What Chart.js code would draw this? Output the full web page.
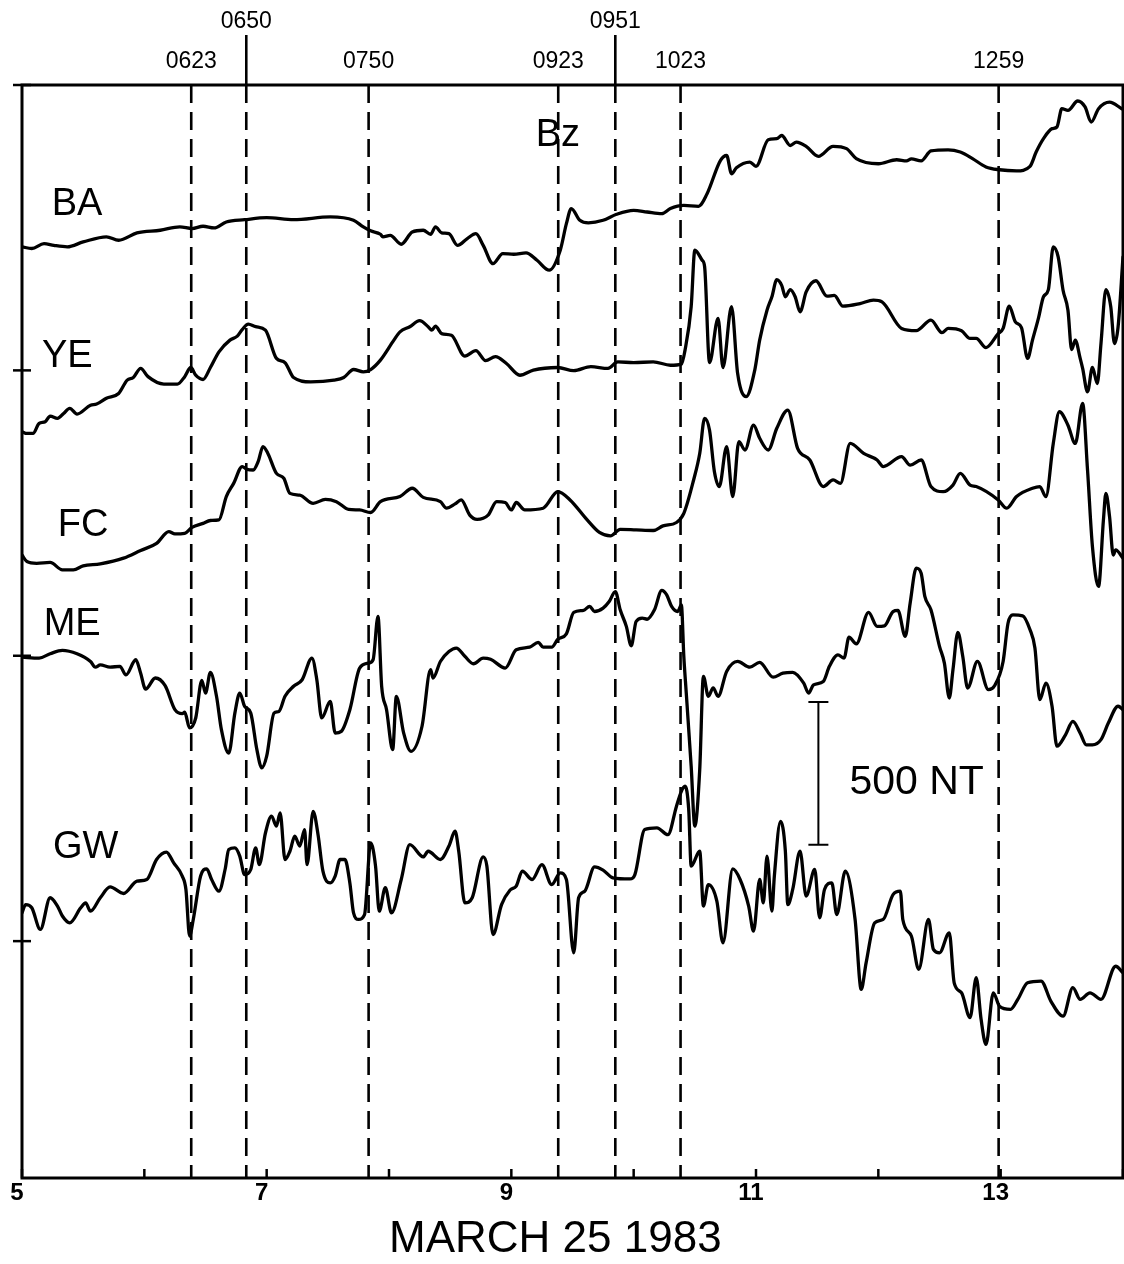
<!DOCTYPE html>
<html>
<head>
<meta charset="utf-8">
<script src="https://cdn.jsdelivr.net/npm/chart.js@4.4.1/dist/chart.umd.min.js"></script>
<style>
  html, body { margin: 0; padding: 0; background: #fff; }
  #wrap { width: 1124px; height: 1264px; }
</style>
</head>
<body>
<div id="wrap"><canvas id="chart" width="1124" height="1264"></canvas></div>
<script>
// Magnetometer traces, March 25 1983: [UT hour, stacked field value in nT]
const stations = ['BA', 'YE', 'FC', 'ME', 'GW'];

const baTrace = [[5.00,2433],[5.08,2427],[5.18,2444],[5.26,2438],[5.37,2433],[5.50,2450],[5.69,2468],[5.79,2456],[5.94,2482],[6.13,2491],[6.29,2503],[6.39,2497],[6.48,2505],[6.57,2499],[6.67,2520],[6.82,2528],[7.00,2535],[7.22,2528],[7.52,2538],[7.71,2526],[7.79,2503],[7.85,2489],[7.93,2477],[7.95,2468],[8.01,2473],[8.10,2442],[8.19,2485],[8.28,2491],[8.34,2477],[8.38,2503],[8.43,2482],[8.49,2479],[8.56,2438],[8.64,2462],[8.71,2479],[8.77,2438],[8.85,2374],[8.93,2409],[9.02,2407],[9.12,2412],[9.21,2386],[9.31,2351],[9.40,2421],[9.45,2514],[9.49,2567],[9.56,2526],[9.63,2517],[9.75,2526],[9.86,2547],[10.00,2561],[10.11,2555],[10.23,2549],[10.30,2567],[10.41,2578],[10.53,2575],[10.60,2619],[10.71,2736],[10.76,2753],[10.80,2689],[10.84,2710],[10.95,2730],[11.00,2715],[11.10,2808],[11.17,2812],[11.21,2823],[11.28,2788],[11.33,2800],[11.41,2785],[11.51,2750],[11.63,2785],[11.74,2777],[11.82,2742],[12.00,2724],[12.15,2738],[12.23,2734],[12.27,2741],[12.35,2734],[12.43,2769],[12.57,2773],[12.67,2765],[12.77,2742],[12.88,2713],[12.99,2703],[13.13,2699],[13.24,2715],[13.29,2765],[13.35,2812],[13.42,2847],[13.46,2853],[13.50,2917],[13.55,2911],[13.63,2944],[13.69,2923],[13.74,2870],[13.80,2917],[13.89,2940],[13.99,2917]];

const yeTrace = [[5.00,1785],[5.04,1779],[5.09,1779],[5.14,1814],[5.19,1820],[5.23,1840],[5.29,1832],[5.34,1849],[5.39,1867],[5.45,1847],[5.56,1878],[5.61,1882],[5.69,1902],[5.79,1919],[5.86,1966],[5.91,1975],[5.97,2007],[6.03,1978],[6.16,1952],[6.27,1952],[6.33,1978],[6.38,2010],[6.42,1983],[6.48,1968],[6.54,2010],[6.61,2065],[6.70,2106],[6.76,2120],[6.80,2143],[6.85,2162],[6.91,2153],[6.99,2141],[7.08,2042],[7.15,2027],[7.22,1975],[7.36,1960],[7.55,1966],[7.63,1975],[7.71,2003],[7.79,1995],[7.85,2003],[7.93,2036],[8.04,2106],[8.09,2135],[8.17,2153],[8.25,2174],[8.32,2153],[8.35,2141],[8.38,2155],[8.43,2129],[8.51,2123],[8.62,2050],[8.71,2069],[8.79,2034],[8.87,2048],[8.96,2024],[9.07,1983],[9.18,2001],[9.38,2010],[9.51,1999],[9.65,2013],[9.79,2007],[9.87,2030],[10.00,2027],[10.16,2030],[10.30,2018],[10.39,2022],[10.42,2071],[10.47,2223],[10.50,2421],[10.56,2386],[10.58,2363],[10.62,2027],[10.69,2182],[10.73,2010],[10.80,2223],[10.85,1989],[10.92,1908],[10.99,2001],[11.03,2106],[11.09,2211],[11.13,2258],[11.17,2318],[11.21,2298],[11.24,2258],[11.28,2283],[11.32,2258],[11.36,2205],[11.41,2275],[11.49,2314],[11.58,2260],[11.64,2263],[11.71,2225],[11.85,2234],[11.96,2246],[12.03,2240],[12.19,2147],[12.31,2139],[12.43,2176],[12.52,2132],[12.57,2147],[12.68,2139],[12.75,2112],[12.80,2112],[12.88,2080],[12.98,2129],[13.02,2147],[13.07,2225],[13.12,2170],[13.17,2150],[13.22,2042],[13.26,2106],[13.31,2185],[13.35,2258],[13.39,2283],[13.43,2433],[13.47,2398],[13.51,2281],[13.55,2211],[13.58,2073],[13.61,2106],[13.65,2042],[13.67,2007],[13.71,1925],[13.75,2010],[13.79,1954],[13.82,2094],[13.86,2283],[13.90,2223],[13.93,2094],[13.96,2153],[14.00,2398]];

const fcTrace = [[5.00,1353],[5.04,1330],[5.12,1324],[5.23,1327],[5.33,1301],[5.42,1301],[5.50,1315],[5.64,1322],[5.83,1342],[5.97,1369],[6.10,1394],[6.20,1435],[6.25,1427],[6.33,1429],[6.39,1450],[6.48,1464],[6.54,1474],[6.61,1476],[6.67,1558],[6.73,1604],[6.80,1663],[6.84,1653],[6.89,1651],[6.93,1680],[6.97,1733],[7.01,1709],[7.08,1639],[7.14,1622],[7.19,1569],[7.27,1563],[7.38,1534],[7.48,1548],[7.57,1540],[7.67,1513],[7.76,1511],[7.85,1502],[7.93,1540],[8.09,1558],[8.19,1587],[8.28,1555],[8.42,1540],[8.47,1517],[8.54,1532],[8.59,1546],[8.66,1493],[8.72,1478],[8.81,1493],[8.88,1540],[8.95,1537],[9.00,1511],[9.04,1537],[9.11,1511],[9.26,1517],[9.38,1575],[9.48,1546],[9.62,1476],[9.72,1432],[9.81,1420],[9.89,1443],[10.02,1441],[10.16,1439],[10.24,1455],[10.35,1467],[10.41,1499],[10.49,1616],[10.54,1709],[10.58,1832],[10.62,1791],[10.66,1645],[10.70,1593],[10.76,1733],[10.81,1558],[10.86,1750],[10.91,1721],[10.98,1808],[11.03,1762],[11.10,1721],[11.17,1797],[11.26,1861],[11.34,1727],[11.44,1686],[11.55,1593],[11.63,1616],[11.69,1604],[11.77,1744],[11.88,1709],[11.99,1686],[12.04,1663],[12.19,1698],[12.26,1668],[12.35,1686],[12.43,1593],[12.53,1575],[12.61,1598],[12.67,1639],[12.75,1598],[12.80,1593],[12.98,1546],[13.05,1517],[13.13,1558],[13.26,1587],[13.32,1593],[13.37,1558],[13.43,1744],[13.48,1855],[13.55,1808],[13.61,1744],[13.67,1884],[13.71,1651],[13.75,1383],[13.80,1243],[13.84,1476],[13.86,1569],[13.89,1488],[13.92,1353],[13.94,1371],[14.00,1342]];

const meTrace = [[5.00,995],[5.14,992],[5.23,1007],[5.33,1019],[5.45,1007],[5.56,980],[5.60,960],[5.64,968],[5.72,960],[5.80,963],[5.85,933],[5.93,986],[5.97,939],[6.01,883],[6.09,922],[6.17,895],[6.25,811],[6.31,797],[6.33,802],[6.37,747],[6.42,782],[6.47,914],[6.50,869],[6.54,942],[6.59,858],[6.63,741],[6.69,659],[6.74,799],[6.78,869],[6.82,823],[6.87,799],[6.92,671],[6.96,607],[7.00,648],[7.06,799],[7.10,805],[7.15,858],[7.22,893],[7.29,916],[7.37,992],[7.41,916],[7.45,782],[7.52,840],[7.56,729],[7.61,735],[7.68,811],[7.76,957],[7.83,974],[7.87,986],[7.91,1138],[7.94,893],[7.98,811],[8.03,671],[8.06,858],[8.12,729],[8.18,665],[8.27,753],[8.34,951],[8.36,922],[8.42,980],[8.49,1015],[8.55,1027],[8.62,998],[8.69,972],[8.77,992],[8.83,988],[8.95,957],[9.04,1021],[9.15,1030],[9.22,1047],[9.26,1030],[9.33,1030],[9.38,1058],[9.45,1077],[9.51,1152],[9.59,1159],[9.64,1173],[9.68,1155],[9.75,1167],[9.80,1190],[9.85,1225],[9.89,1161],[9.94,1103],[9.98,1035],[10.02,1120],[10.07,1132],[10.11,1128],[10.17,1161],[10.23,1229],[10.27,1213],[10.31,1173],[10.36,1155],[10.39,1178],[10.41,998],[10.43,869],[10.47,613],[10.50,403],[10.54,601],[10.57,928],[10.61,858],[10.65,887],[10.69,858],[10.76,945],[10.85,980],[10.95,960],[11.03,977],[11.14,925],[11.22,939],[11.30,942],[11.39,904],[11.43,869],[11.47,898],[11.55,910],[11.60,963],[11.67,1003],[11.72,992],[11.76,1065],[11.82,1042],[11.92,1152],[11.99,1103],[12.05,1105],[12.12,1155],[12.16,1159],[12.22,1068],[12.26,1184],[12.31,1307],[12.35,1289],[12.38,1208],[12.43,1161],[12.50,1033],[12.54,974],[12.58,852],[12.61,951],[12.65,1082],[12.69,998],[12.73,887],[12.81,980],[12.90,881],[12.95,895],[13.02,980],[13.06,1114],[13.10,1143],[13.18,1140],[13.24,1091],[13.28,1027],[13.32,846],[13.37,904],[13.42,823],[13.46,683],[13.53,723],[13.59,770],[13.65,729],[13.70,688],[13.75,688],[13.82,706],[13.88,764],[13.96,823],[14.00,811]];

const gwTrace = [[5.00,99],[5.03,128],[5.08,117],[5.15,41],[5.23,152],[5.29,123],[5.33,88],[5.39,64],[5.48,117],[5.52,134],[5.56,105],[5.64,152],[5.72,190],[5.83,167],[5.94,210],[6.02,216],[6.10,286],[6.18,312],[6.24,274],[6.31,228],[6.34,181],[6.37,18],[6.40,76],[6.46,228],[6.51,253],[6.55,216],[6.61,175],[6.66,251],[6.69,321],[6.74,327],[6.78,298],[6.82,233],[6.87,251],[6.91,327],[6.94,268],[6.99,379],[7.04,438],[7.08,403],[7.11,449],[7.15,286],[7.19,315],[7.23,368],[7.27,333],[7.31,391],[7.33,268],[7.38,455],[7.42,373],[7.46,245],[7.52,204],[7.56,228],[7.60,286],[7.64,286],[7.68,204],[7.71,99],[7.75,76],[7.80,93],[7.85,344],[7.89,263],[7.92,105],[7.97,187],[8.02,99],[8.10,216],[8.17,338],[8.28,295],[8.32,315],[8.42,286],[8.49,333],[8.54,385],[8.57,315],[8.62,134],[8.68,152],[8.77,295],[8.80,263],[8.85,23],[8.92,128],[8.99,179],[9.04,193],[9.09,245],[9.17,216],[9.25,268],[9.33,198],[9.40,239],[9.45,216],[9.51,-41],[9.55,152],[9.60,175],[9.68,260],[9.75,249],[9.83,222],[9.97,218],[10.01,233],[10.09,391],[10.19,397],[10.28,373],[10.35,473],[10.39,525],[10.42,543],[10.45,461],[10.47,263],[10.54,315],[10.57,123],[10.61,198],[10.68,140],[10.73,-6],[10.81,253],[10.87,216],[10.94,123],[10.98,35],[11.03,216],[11.06,134],[11.09,298],[11.13,105],[11.15,228],[11.20,420],[11.24,315],[11.26,128],[11.30,181],[11.36,315],[11.41,158],[11.48,251],[11.52,82],[11.56,181],[11.62,204],[11.66,93],[11.73,245],[11.81,76],[11.86,-169],[11.90,-76],[11.97,64],[12.04,76],[12.12,163],[12.18,175],[12.20,76],[12.27,18],[12.33,-99],[12.41,76],[12.45,-29],[12.50,-41],[12.58,29],[12.62,-146],[12.68,-181],[12.75,-268],[12.80,-128],[12.84,-274],[12.88,-362],[12.94,-181],[12.99,-228],[13.08,-239],[13.14,-204],[13.22,-146],[13.33,-140],[13.41,-210],[13.51,-263],[13.59,-163],[13.65,-204],[13.73,-181],[13.82,-204],[13.94,-88],[14.00,-111]];

const traces = [baTrace, yeTrace, fcTrace, meTrace, gwTrace];

// Event times (UT, hhmm) marked with dashed lines
const eventTimes = ['0623', '0650', '0750', '0923', '0951', '1023', '1259'];

// Hour axis
const hourTicks = [5, 6, 7, 8, 9, 10, 11, 12, 13, 14];
const hourLabels = [5, 7, 9, 11, 13];
const fieldTicks = [0, 1000, 2000, 3000];
const dateTitle = 'MARCH 25 1983';

// Calibration bar
const scaleBarNT = 500;

const FONT = "'Liberation Sans', Arial, Helvetica, sans-serif";
const toHours = s => Number(s.slice(0, 2)) + Number(s.slice(2)) / 60;

// Where the text annotations sit, in axis units [hour, nT]
const stationLabelAt = { BA: [5.45, 2580], YE: [5.37, 2049], FC: [5.50, 1458], ME: [5.41, 1108], GW: [5.52, 328] };
const bzLabelAt = [9.38, 2823];
const scaleBarAt = { hour: 11.51, base: 338 };
const titleAt = [9.36, -1047];

const decor = {
  id: 'decor',
  beforeDatasetsDraw(chart) {
    const { ctx, chartArea: a, scales: { x } } = chart;
    ctx.save();
    ctx.strokeStyle = '#000';
    ctx.fillStyle = '#000';
    ctx.font = `23px ${FONT}`;
    ctx.textAlign = 'center';
    ctx.textBaseline = 'middle';
    let lastLow = -Infinity;
    eventTimes.forEach(ev => {
      const h = toHours(ev);
      const px = x.getPixelForValue(h);
      const raised = h - lastLow < 0.6;
      if (!raised) lastLow = h;
      ctx.lineWidth = 2.6;
      // stem up to a raised label
      if (raised) {
        ctx.setLineDash([]);
        ctx.beginPath();
        ctx.moveTo(px, a.top - 50);
        ctx.lineTo(px, a.top);
        ctx.stroke();
      }
      ctx.setLineDash([18, 9]);
      ctx.beginPath();
      ctx.moveTo(px, a.top);
      ctx.lineTo(px, a.bottom);
      ctx.stroke();
      ctx.setLineDash([]);
      ctx.fillText(ev, px, raised ? a.top - 63 : a.top - 23);
    });
    ctx.restore();
  },
  afterDraw(chart) {
    const { ctx, chartArea: a, scales: { x, y } } = chart;
    ctx.save();
    ctx.strokeStyle = '#000';
    ctx.fillStyle = '#000';
    ctx.setLineDash([]);
    // frame
    ctx.lineWidth = 3;
    ctx.strokeRect(a.left, a.top, a.right - a.left, a.bottom - a.top);
    // field ticks across the left axis
    ctx.lineWidth = 2.5;
    fieldTicks.forEach(v => {
      const py = y.getPixelForValue(v);
      ctx.beginPath();
      ctx.moveTo(a.left - 9, py);
      ctx.lineTo(a.left + 9, py);
      ctx.stroke();
    });
    // hour ticks on the time axis
    hourTicks.forEach(h => {
      const px = x.getPixelForValue(h);
      ctx.beginPath();
      ctx.moveTo(px, a.bottom);
      ctx.lineTo(px, a.bottom - 9);
      ctx.stroke();
    });
    // station names
    ctx.textAlign = 'center';
    ctx.textBaseline = 'middle';
    ctx.font = `38px ${FONT}`;
    stations.forEach(s => {
      const [h, v] = stationLabelAt[s];
      ctx.fillText(s, x.getPixelForValue(h), y.getPixelForValue(v));
    });
    ctx.fillText('Bz', x.getPixelForValue(bzLabelAt[0]), y.getPixelForValue(bzLabelAt[1]));
    // 500 nT calibration bar
    const bx = x.getPixelForValue(scaleBarAt.hour);
    const b0 = y.getPixelForValue(scaleBarAt.base);
    const b1 = y.getPixelForValue(scaleBarAt.base + scaleBarNT);
    ctx.lineWidth = 2;
    ctx.beginPath();
    ctx.moveTo(bx, b0); ctx.lineTo(bx, b1);
    ctx.moveTo(bx - 10, b0); ctx.lineTo(bx + 10, b0);
    ctx.moveTo(bx - 10, b1); ctx.lineTo(bx + 10, b1);
    ctx.stroke();
    ctx.font = `41px ${FONT}`;
    ctx.textAlign = 'left';
    ctx.fillText(`${scaleBarNT} NT`, bx + 31, (b0 + b1) / 2 + 9);
    // date title under the time axis
    ctx.textAlign = 'center';
    ctx.font = `44px ${FONT}`;
    ctx.fillText(dateTitle, x.getPixelForValue(titleAt[0]), y.getPixelForValue(titleAt[1]));
    ctx.restore();
  }
};

new Chart(document.getElementById('chart'), {
  type: 'line',
  data: {
    datasets: traces.map((tr, i) => ({
      label: stations[i],
      data: tr.map(([h, v]) => ({ x: h, y: v })),
      borderColor: '#000',
      borderWidth: 3.3,
      borderJoinStyle: 'round',
      borderCapStyle: 'round',
      pointRadius: 0,
      cubicInterpolationMode: 'monotone',
      fill: false
    }))
  },
  options: {
    responsive: false,
    animation: false,
    events: [],
    layout: { padding: { left: 22, right: 1, top: 85, bottom: 0 } },
    plugins: { legend: { display: false }, tooltip: { enabled: false } },
    scales: {
      x: {
        type: 'linear',
        min: 5,
        max: 14,
        afterFit(s) { s.height = 86; },
        afterBuildTicks(s) { s.ticks = hourTicks.map(v => ({ value: v })); },
        ticks: {
          autoSkip: false,
          maxRotation: 0,
          padding: 1,
          labelOffset: -5,
          color: '#000',
          font: { family: FONT, size: 24, weight: 'bold' },
          callback: v => (hourLabels.includes(v) ? String(v) : '')
        },
        grid: { display: false, drawTicks: false },
        border: { display: false }
      },
      y: { type: 'linear', display: false, min: -830, max: 3000 }
    }
  },
  plugins: [decor]
});
</script>
</body>
</html>
